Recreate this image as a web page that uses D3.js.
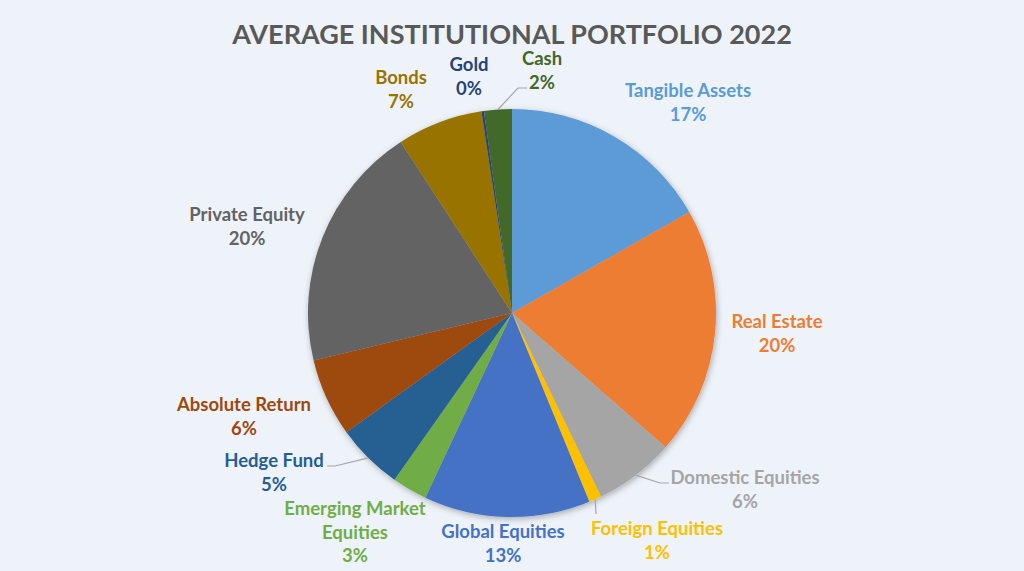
<!DOCTYPE html>
<html>
<head>
<meta charset="utf-8">
<script src="https://cdn.jsdelivr.net/npm/d3@7"></script>
<style>
  html, body { margin: 0; padding: 0; background: #eef3fa; }
  svg { display: block; }
  text { font-family: Lato, "Open Sans", sans-serif; font-weight: bold; }
</style>
</head>
<body>
<svg id="chart" width="1024" height="571"></svg>
<script>
// ---- data ----
const categories = ["Tangible Assets", "Real Estate", "Domestic Equities", "Foreign Equities",
  "Global Equities", "Emerging Market Equities", "Hedge Fund", "Absolute Return",
  "Private Equity", "Bonds", "Gold", "Cash"];
const values = [16.8, 19.7, 6.4, 1.0, 13.2, 2.8, 5.3, 6.2, 19.6, 6.8, 0.2, 2.2];
const title = "AVERAGE INSTITUTIONAL PORTFOLIO 2022";

// ---- style ----
const colors = ["#5b9bd5", "#ed7d31", "#a5a5a5", "#ffc000", "#4472c4", "#70ad47",
  "#255e91", "#9e480e", "#636363", "#997300", "#264478", "#43682b"];

// label layout: first-line baseline anchor, lines of name, leader elbow points
const labelLayout = {
  "Tangible Assets": { x: 688, y: 97, lines: ["Tangible Assets"] },
  "Real Estate": { x: 777, y: 328, lines: ["Real Estate"] },
  "Domestic Equities": { x: 745, y: 484, lines: ["Domestic Equities"], leader: [[660, 483], [669, 483]] },
  "Foreign Equities": { x: 657, y: 535, lines: ["Foreign Equities"], leader: [[596, 514]] },
  "Global Equities": { x: 503, y: 538, lines: ["Global Equities"] },
  "Emerging Market Equities": { x: 355, y: 515, lines: ["Emerging Market", "Equities"] },
  "Hedge Fund": { x: 274, y: 467, lines: ["Hedge Fund"], leader: [[335, 466], [327, 466]] },
  "Absolute Return": { x: 244, y: 411, lines: ["Absolute Return"] },
  "Private Equity": { x: 247, y: 221, lines: ["Private Equity"] },
  "Bonds": { x: 401, y: 84, lines: ["Bonds"] },
  "Gold": { x: 469, y: 71, lines: ["Gold"] },
  "Cash": { x: 542, y: 65, lines: ["Cash"], leader: [[518, 88], [527, 88]] }
};
const labelColors = {"Private Equity": "#636363", "Domestic Equities": "#a5a5a5"};

const W = 1024, H = 571;
const cx = 512, cy = 313, R = 204;
const lineH = 23.5;

const svg = d3.select("#chart");
const defs = svg.append("defs");
const f = defs.append("filter").attr("id", "shadow")
  .attr("x", "-20%").attr("y", "-20%").attr("width", "140%").attr("height", "140%");
f.append("feDropShadow").attr("dx", 1).attr("dy", 2).attr("stdDeviation", 3)
  .attr("flood-color", "#000").attr("flood-opacity", 0.3);

svg.append("text")
  .attr("x", W / 2).attr("y", 44)
  .attr("text-anchor", "middle")
  .attr("fill", "#595959")
  .style("font-size", "27px")
  .text(title);

const data = categories.map((c, i) => ({ name: c, value: values[i], color: colors[i] }));
const pie = d3.pie().sort(null).value(d => d.value);
const arcs = pie(data);
const arc = d3.arc().innerRadius(0).outerRadius(R);

const g = svg.append("g").attr("transform", `translate(${cx},${cy})`);
const slices = g.append("g").attr("filter", "url(#shadow)");
slices.selectAll("path").data(arcs).join("path")
  .attr("d", arc)
  .attr("fill", d => d.data.color);

// leader lines
const pctFmt = d3.format(".0%");
arcs.forEach(a => {
  const L = labelLayout[a.data.name];
  if (!L.leader) return;
  const mid = (a.startAngle + a.endAngle) / 2;
  const start = [cx + R * Math.sin(mid), cy - R * Math.cos(mid)];
  const pts = [start].concat(L.leader);
  svg.append("path")
    .attr("d", d3.line()(pts))
    .attr("fill", "none")
    .attr("stroke", "#a6a6a6")
    .attr("stroke-width", 1.2);
});

// labels
arcs.forEach(a => {
  const L = labelLayout[a.data.name];
  const t = svg.append("text")
    .attr("text-anchor", "middle")
    .attr("fill", labelColors[a.data.name] || a.data.color)
    .style("font-size", "18.5px");
  const lines = L.lines.concat([pctFmt(a.data.value / 100)]);
  lines.forEach((s, i) => {
    t.append("tspan").attr("x", L.x).attr("y", L.y + i * lineH).text(s);
  });
});
</script>
</body>
</html>
